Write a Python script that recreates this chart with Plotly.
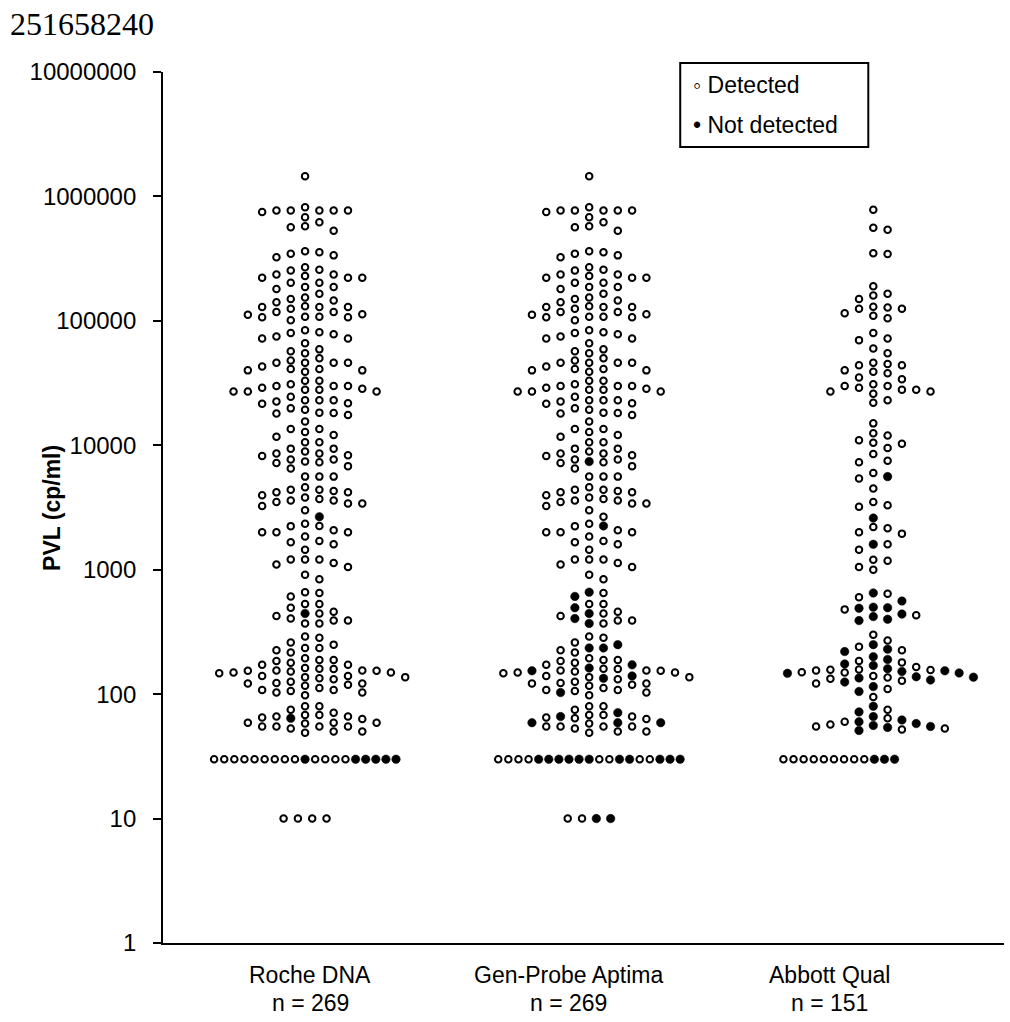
import numpy as np
from collections import Counter
import plotly.graph_objects as go

# ---------------- data ----------------
categories = ["Roche DNA", "Gen-Probe Aptima", "Abbott Qual"]
n_labels = ["n = 269", "n = 269", "n = 151"]
category_x = [0.5, 1.5, 2.5]
y_tick_vals = [1, 10, 100, 1000, 10000, 100000, 1000000, 10000000]
y_tick_text = [str(v) for v in y_tick_vals]

# PVL (cp/ml) of specimens above 30 cp/ml, tested by Roche DNA and Gen-Probe Aptima
pvl_roche_genprobe = [
    1450000,
    820000, 770000, 770000, 770000, 770000, 770000, 750000, 680000, 620000, 575000, 565000, 530000,
    363000, 356000, 346000, 336000, 325000,
    270000, 257000, 254000, 236000, 236000, 229000, 222000, 222000, 222000, 202000, 202000, 187000, 187000, 180000,
    165000, 154000, 150000, 146000, 141000, 131000, 129000, 129000, 129000, 125000, 118000, 118000, 113000, 112000,
    108000, 108000, 107000, 107000, 101000,
    84000, 81000, 80000, 78000, 75000, 72000, 72000, 66000, 59000, 57000, 55000, 50000, 48000, 46000, 46000, 46000,
    46000, 43000, 41000, 41000, 40000, 40000, 39000,
    33000, 33000, 31000, 30000, 30000, 30000, 29000, 28500, 28000, 28000, 27000, 27000, 27000, 24500, 23000, 23000,
    23000, 22500, 21800, 21600, 19800, 19300, 18300, 18200, 18000, 17500, 15500, 13500, 13500, 12800, 12100, 11700,
    10600, 10600, 9400, 9400, 8900, 8600, 8600, 8300, 8200, 7700, 7700, 7400, 7300, 7200, 6800, 6500, 5600, 5600, 5600,
    4600, 4400, 4400, 4300, 4200, 4200, 3960, 3800, 3700, 3600, 3600, 3500, 3400, 3400, 3250, 3000,
    2660, 2340, 2250, 2240, 2080, 2000, 2000, 2000, 1850, 1700, 1660, 1600, 1450,
    1210, 1210, 1210, 1130, 1100, 1050, 910, 840,
    660, 650, 610, 530, 530, 495, 460, 445, 445, 425, 405, 390, 390, 370, 370,
    290, 284, 260, 250, 235, 235, 225, 216, 194, 188, 188, 185, 179, 172, 172, 162, 160, 159, 155, 155, 154, 154,
    152, 149, 149, 147, 140, 140, 137, 137, 134, 132, 126, 123, 122, 122, 119, 117, 112, 108, 108, 106, 103, 103, 98,
    80, 80, 75, 71, 68, 68, 66, 66, 65, 64, 63, 59, 59, 59, 58, 55, 55, 55, 55, 53, 50, 50, 49,
]
roche_not_detected = [2660, 445, 64]
genprobe_not_detected = [7400, 2250, 660, 610, 495, 445, 405, 370, 250, 235, 235, 172, 162, 154, 140, 134,
                         103, 71, 66, 59, 59, 59]

# Abbott Qual specimens above 30 cp/ml
abbott_pvl = [
    780000, 560000, 540000, 350000, 345000, 190000, 165000, 160000, 150000, 130000, 128000, 125000, 125000,
    115000, 110000, 105000, 80000, 72000, 70000, 60000, 55000, 46000, 45000, 44000, 44000, 40000, 39000, 38000,
    35000, 34000, 31000, 30000, 30000, 29000, 28000, 28000, 27000, 27000, 26000, 23000, 22000, 15000, 12500,
    12000, 11000, 10500, 10300,
    9500, 8500, 7500, 7300, 6000, 5600, 5400, 4500, 3500, 3300, 3200, 2600, 2200, 2150, 2000, 1950, 1600, 1600,
    1450, 1200, 1180, 1050, 1000,
    650, 640, 600, 560, 500, 495, 490, 480, 440, 430, 420, 400, 390, 300, 270, 250, 240,
    230, 225, 220, 200, 190, 185, 180, 175, 170, 165,
    160, 158, 157, 156, 155, 154, 152, 150, 149, 148, 147,
    140, 138, 137, 136, 135, 133, 130, 128, 125, 122, 115, 110, 105,
    95, 80, 75, 72, 66, 64, 62, 60, 60, 58, 57, 56, 55, 55, 54, 53, 52, 51,
]
abbott_not_detected = [5600, 2600, 1600, 650, 560, 500, 495, 490, 440, 420, 400, 390, 250,
                       230, 220, 200, 190, 175, 170, 160, 154, 152, 148, 147, 138, 137, 135, 130, 125, 115, 105,
                       80, 72, 66, 62, 60, 58, 56, 55, 54, 51]

# detection flags (1 = detected) for the rows at the 30 cp/ml and 10 cp/ml levels, left to right
roche_lod30 = [1, 1, 1, 1, 1, 1, 1, 1, 1, 0, 1, 1, 1, 1, 0, 0, 0, 0, 0]
genprobe_lod30 = [1, 1, 1, 1, 0, 0, 0, 0, 0, 0, 1, 1, 0, 0, 1, 1, 0, 0, 0]
abbott_lod30 = [1, 1, 1, 1, 1, 1, 1, 1, 1, 0, 0, 0]
roche_lod10 = [1, 1, 1, 1]
genprobe_lod10 = [1, 1, 0, 0]

# ---------------- geometry (page pixels) ----------------
W, H = 1010, 1022
L, T, B_PX = 163, 72, 943
X_UNIT = 284.0
X_MAX = 2.96
plot_w = X_UNIT * X_MAX
plot_h = B_PX - T
PX_DEC = plot_h / 7.0
SLOT = 14.3
MIN_DY = 8.5


def swarm(center, values, nd_values, rows, row_align="center"):
    nd = Counter(nd_values)
    occupied = {}
    order = [0]
    for k in range(1, 30):
        order += [k, -k]
    pts = []
    for v in sorted(values, reverse=True):
        y = np.log10(v) * PX_DEC
        slot = 0
        for s in order:
            if all(abs(y - yy) >= MIN_DY for yy in occupied.get(s, [])):
                slot = s
                break
        occupied.setdefault(slot, []).append(y)
        det = True
        if nd[v] > 0:
            nd[v] -= 1
            det = False
        pts.append((center + slot * SLOT / X_UNIT, v, det))
    left_edge = center + min(occupied) * SLOT / X_UNIT
    for level, flags in rows:
        n = len(flags)
        sp = (10.1 if n > 8 else 14.3) / X_UNIT
        start = center - (n - 1) / 2 * sp if row_align == "center" else left_edge - 0.4 * sp
        for i, f in enumerate(flags):
            pts.append((start + i * sp, level, bool(f)))
    return pts


pts = []
pts += swarm(category_x[0], pvl_roche_genprobe, roche_not_detected, [(30, roche_lod30), (10, roche_lod10)])
pts += swarm(category_x[1], pvl_roche_genprobe, genprobe_not_detected, [(30, genprobe_lod30), (10, genprobe_lod10)])
pts += swarm(category_x[2], abbott_pvl, abbott_not_detected, [(30, abbott_lod30)], row_align="left")

det_x = [p[0] for p in pts if p[2]]
det_y = [p[1] for p in pts if p[2]]
nd_x = [p[0] for p in pts if not p[2]]
nd_y = [p[1] for p in pts if not p[2]]

fig = go.Figure()
fig.add_trace(go.Scatter(x=det_x, y=det_y, mode="markers", name="Detected",
                         marker=dict(symbol="circle", size=6.5, color="white",
                                     line=dict(color="black", width=2)),
                         showlegend=False, hoverinfo="y"))
fig.add_trace(go.Scatter(x=nd_x, y=nd_y, mode="markers", name="Not detected",
                         marker=dict(symbol="circle", size=8.5, color="black",
                                     line=dict(color="black", width=0.5)),
                         showlegend=False, hoverinfo="y"))


def px(xp, yp):
    return (xp - L) / plot_w, (B_PX - yp) / plot_h


FONT = "Arial, Liberation Sans, sans-serif"
ann = []
x0, y0 = px(8, 24)
ann.append(dict(text="251658240", x=x0, y=y0, xref="paper", yref="paper", xanchor="left", yanchor="middle",
                showarrow=False, font=dict(family="Times New Roman, Liberation Serif, serif", size=32, color="black")))
x0, y0 = px(52, 508)
ann.append(dict(text="<b>PVL (cp/ml)</b>", x=x0, y=y0, xref="paper", yref="paper", textangle=-90,
                xanchor="center", yanchor="middle",
                showarrow=False, font=dict(family=FONT, size=23, color="black")))
label_shift = [5, -21, -44]
for cx, cat, nl, sh in zip(category_x, categories, n_labels, label_shift):
    ann.append(dict(text=cat, x=cx, y=px(0, 975)[1], xref="x", yref="paper", xshift=sh, showarrow=False,
                    xanchor="center", yanchor="middle",
                    font=dict(family=FONT, size=23, color="black")))
    ann.append(dict(text=nl, x=cx, y=px(0, 1003)[1], xref="x", yref="paper", xshift=sh, showarrow=False,
                    xanchor="center", yanchor="middle",
                    font=dict(family=FONT, size=23, color="black")))
x0, y0 = px(691, 85)
ann.append(dict(text="◦ Detected", x=x0, y=y0, xref="paper", yref="paper", xanchor="left", yanchor="middle",
                showarrow=False, font=dict(family=FONT, size=23, color="black")))
x0, y0 = px(691, 125)
ann.append(dict(text="• Not detected", x=x0, y=y0, xref="paper", yref="paper", xanchor="left", yanchor="middle",
                showarrow=False, font=dict(family=FONT, size=23, color="black")))

bx0, by0 = px(680, 63)
bx1, by1 = px(868, 147)
shapes = [dict(type="rect", xref="paper", yref="paper", x0=bx0, y0=by1, x1=bx1, y1=by0,
               line=dict(color="black", width=2), fillcolor="white", layer="below")]

fig.update_layout(
    width=W, height=H,
    margin=dict(l=L, r=W - L - plot_w, t=T, b=H - B_PX, pad=0),
    paper_bgcolor="white", plot_bgcolor="white",
    annotations=ann, shapes=shapes, showlegend=False,
    xaxis=dict(range=[0, X_MAX], showgrid=False, zeroline=False, showticklabels=False, ticks="",
               showline=True, linecolor="black", linewidth=1.75),
    yaxis=dict(type="log", range=[0, 7], tickvals=y_tick_vals, ticktext=y_tick_text, showgrid=False,
               zeroline=False, ticks="outside", ticklen=8, tickwidth=1.75, tickcolor="black",
               showline=True, linecolor="black", linewidth=1.75, ticklabelstandoff=12,
               tickfont=dict(family=FONT, size=24, color="black")),
)

fig.write_html("out.html", config={"displayModeBar": False},
               post_script="document.body.style.margin='0px';")
